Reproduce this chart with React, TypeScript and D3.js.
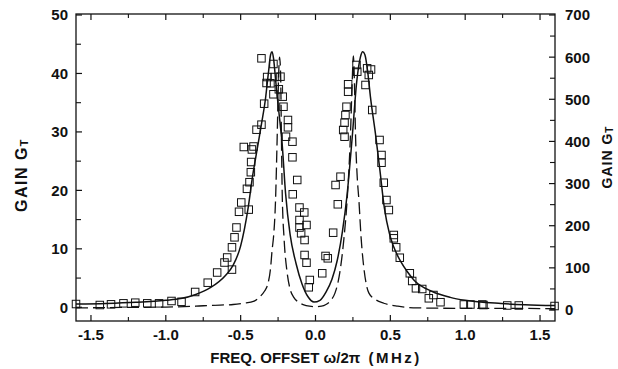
import React from 'react';
import * as d3 from 'd3';

const xTickValues = [-1.5, -1.0, -0.5, 0, 0.5, 1.0, 1.5];
const xMinorTicks = [-1.25, -0.75, -0.25, 0.25, 0.75, 1.25];
const leftTickValues = [0, 10, 20, 30, 40, 50];
const leftMinorTicks = [5, 15, 25, 35, 45];
const rightTickValues = [0, 100, 200, 300, 400, 500, 600, 700];
const rightMinorTicks = [50, 150, 250, 350, 450, 550, 650];

// Theory (solid), left axis units
const solidCurve: [number, number][] = [
  [-1.6, 0.55], [-1.4, 0.65], [-1.2, 0.85], [-1.0, 1.2], [-0.9, 1.5], [-0.8, 2.2], [-0.7, 3.4],
  [-0.6, 5.5], [-0.55, 7.2], [-0.5, 10.5], [-0.45, 17], [-0.42, 22.5], [-0.39, 27], [-0.36, 31.5],
  [-0.335, 35.5], [-0.315, 40], [-0.3, 43.2], [-0.29, 43.7], [-0.28, 42.5], [-0.265, 38.5],
  [-0.245, 33.5], [-0.223, 28], [-0.2, 19.5], [-0.17, 12.5], [-0.13, 7.5], [-0.09, 4],
  [-0.05, 1.8], [-0.01, 0.9], [0.03, 1.2], [0.07, 2.6], [0.11, 4.8], [0.145, 8], [0.18, 13],
  [0.21, 19], [0.245, 29], [0.275, 38.5], [0.3, 42.8], [0.315, 43.7], [0.33, 43.2], [0.35, 40],
  [0.367, 36], [0.4, 29.8], [0.43, 23.5], [0.46, 17], [0.494, 12.6], [0.523, 10.3], [0.57, 7.8],
  [0.61, 6.2], [0.66, 4.6], [0.78, 2.7], [0.9, 1.7], [1.0, 1.2], [1.24, 0.65], [1.4, 0.45], [1.6, 0.3],
];

// Theory (dashed), right axis units
const dashedCurve: [number, number][] = [
  [-1.6, 5], [-1.3, 6], [-1.0, 7], [-0.8, 9], [-0.7, 11], [-0.55, 13], [-0.48, 16], [-0.41, 21],
  [-0.37, 32], [-0.34, 45], [-0.32, 60], [-0.3, 100], [-0.29, 142], [-0.28, 175], [-0.267, 260],
  [-0.256, 410], [-0.247, 550], [-0.24, 600], [-0.233, 560], [-0.228, 420], [-0.222, 270],
  [-0.21, 170], [-0.19, 90], [-0.17, 50], [-0.145, 30], [-0.11, 18], [-0.078, 12], [-0.04, 9],
  [0, 8], [0.04, 9], [0.07, 13], [0.1, 22], [0.13, 40], [0.15, 65], [0.167, 100], [0.19, 170],
  [0.212, 265], [0.234, 420], [0.245, 540], [0.253, 603], [0.26, 540], [0.267, 420], [0.278, 320],
  [0.29, 260], [0.305, 170], [0.323, 100], [0.34, 60], [0.357, 40], [0.4, 25], [0.456, 16],
  [0.55, 9], [0.68, 5], [1.0, 4], [1.3, 4], [1.6, 3],
];

// Measured gain (squares), left axis units
const squares: [number, number][] = [
  [-1.6, 0.56], [-1.441, 0.39], [-1.366, 0.51], [-1.283, 0.68], [-1.204, 0.79], [-1.124, 0.68],
  [-1.045, 0.68], [-0.962, 1.08], [-0.895, 0.94], [-0.804, 2.62], [-0.72, 4.21], [-0.657, 5.95],
  [-0.608, 7.66], [-0.59, 8.52], [-0.558, 6.45], [-0.558, 10.26], [-0.541, 11.97], [-0.528, 13.65],
  [-0.511, 16.34], [-0.496, 17.93], [-0.446, 16.71], [-0.458, 20.27], [-0.441, 21.4], [-0.432, 23.11],
  [-0.43, 24.85], [-0.479, 27.42], [-0.414, 27.51], [-0.425, 27.0], [-0.394, 30.38], [-0.361, 31.24],
  [-0.343, 34.83], [-0.327, 38.37], [-0.323, 39.39], [-0.361, 42.59], [-0.301, 38.32], [-0.281, 36.44],
  [-0.281, 41.62], [-0.271, 39.39], [-0.245, 37.29], [-0.234, 39.45], [-0.219, 36.03], [-0.214, 34.31],
  [-0.184, 32.04], [-0.184, 30.79], [-0.197, 29.18], [-0.154, 28.33], [-0.154, 25.66], [-0.122, 21.78],
  [-0.152, 19.33], [-0.107, 17.07], [-0.075, 16.22], [-0.107, 14.93], [-0.06, 14.08], [-0.107, 13.65],
  [-0.096, 12.66], [-0.073, 11.51], [-0.073, 8.95], [-0.06, 7.63], [-0.038, 4.67], [-0.045, 3.42],
  [0.045, 5.82], [0.067, 8.78], [0.082, 8.38], [0.118, 12.76], [0.149, 17.62], [0.134, 20.92],
  [0.167, 22.34], [0.194, 29.18], [0.185, 30.33], [0.194, 31.58], [0.2, 32.89], [0.207, 34.31],
  [0.218, 36.88], [0.218, 38.15], [0.274, 41.45], [0.279, 40.3], [0.345, 40.88], [0.356, 39.74],
  [0.371, 40.68], [0.334, 38.03], [0.379, 33.75], [0.428, 28.62], [0.441, 26.05], [0.441, 24.73],
  [0.456, 21.31], [0.474, 18.35], [0.49, 16.64], [0.523, 12.37], [0.523, 11.8], [0.539, 10.26],
  [0.563, 8.48], [0.63, 5.82], [0.646, 4.5], [0.671, 3.25], [0.713, 3.13], [0.757, 1.54],
  [0.788, 2.1], [0.835, 0.87], [0.991, 0.48], [1.035, 0.48], [1.114, 0.48], [1.122, 0.39],
  [1.281, 0.31], [1.358, 0.31], [1.597, 0.22],
];

const W = 618;
const H = 369;
const frame = { left: 76, right: 555, top: 14, bottom: 321 };
const FONT = "'Liberation Sans', Arial, Helvetica, sans-serif";

export default function App() {
  const x = d3.scaleLinear().domain([-1.6, 1.6]).range([frame.left, frame.right]);
  const yL = d3.scaleLinear().domain([0, 50]).range([307.3, 15]);
  const yR = d3.scaleLinear().domain([0, 700]).range([310, 15]);

  const solidPath = d3.line<[number, number]>()
    .x(d => x(d[0])).y(d => yL(d[1]))
    .curve(d3.curveMonotoneX)(solidCurve) as string;
  const dashedPath = d3.line<[number, number]>()
    .x(d => x(d[0])).y(d => yR(d[1]))
    .curve(d3.curveMonotoneX)(dashedCurve) as string;

  const sq = 7.5;

  return (
    <svg width={W} height={H} style={{ position: 'absolute', left: 0, top: 0, background: '#fff' }}
      fontFamily={FONT}>
      <rect x={0} y={0} width={W} height={H} fill="#fff" />
      {/* frame */}
      <rect x={frame.left} y={frame.top} width={frame.right - frame.left} height={frame.bottom - frame.top}
        fill="none" stroke="#111" strokeWidth={1.3} />
      {/* x ticks bottom & top */}
      {xTickValues.map(v => (
        <g key={'xt' + v}>
          <line x1={x(v)} x2={x(v)} y1={frame.bottom} y2={frame.bottom - 6} stroke="#111" strokeWidth={1.2} />
          <line x1={x(v)} x2={x(v)} y1={frame.top} y2={frame.top + 6} stroke="#111" strokeWidth={1.2} />
          <text x={x(v)} y={340} textAnchor="middle" fontSize={15} fontWeight="bold" fill="#111">
            {v.toFixed(1)}
          </text>
        </g>
      ))}
      {xMinorTicks.map(v => (
        <g key={'xm' + v}>
          <line x1={x(v)} x2={x(v)} y1={frame.bottom} y2={frame.bottom - 4} stroke="#111" strokeWidth={1.1} />
          <line x1={x(v)} x2={x(v)} y1={frame.top} y2={frame.top + 4} stroke="#111" strokeWidth={1.1} />
        </g>
      ))}
      {/* left ticks */}
      {leftTickValues.map(v => (
        <g key={'lt' + v}>
          <line x1={frame.left} x2={frame.left + 6} y1={yL(v)} y2={yL(v)} stroke="#111" strokeWidth={1.2} />
          <text x={68} y={yL(v)} dy="0.36em" textAnchor="end" fontSize={15} fontWeight="bold" fill="#111">{v}</text>
        </g>
      ))}
      {leftMinorTicks.map(v => (
        <line key={'lm' + v} x1={frame.left} x2={frame.left + 5} y1={yL(v)} y2={yL(v)} stroke="#111" strokeWidth={1.1} />
      ))}
      {/* right ticks */}
      {rightTickValues.map(v => (
        <g key={'rt' + v}>
          <line x1={frame.right} x2={frame.right - 6} y1={yR(v)} y2={yR(v)} stroke="#111" strokeWidth={1.2} />
          <text x={565} y={yR(v)} dy="0.36em" textAnchor="start" fontSize={15} fontWeight="bold" fill="#111">{v}</text>
        </g>
      ))}
      {rightMinorTicks.map(v => (
        <line key={'rm' + v} x1={frame.right} x2={frame.right - 5} y1={yR(v)} y2={yR(v)} stroke="#111" strokeWidth={1.1} />
      ))}
      {/* curves */}
      <path d={dashedPath} fill="none" stroke="#111" strokeWidth={1.3} strokeDasharray="12,5" />
      <path d={solidPath} fill="none" stroke="#111" strokeWidth={1.5} />
      {/* squares */}
      {squares.map((d, i) => (
        <rect key={'s' + i} x={x(d[0]) - sq / 2} y={yL(d[1]) - sq / 2} width={sq} height={sq}
          fill="none" stroke="#111" strokeWidth={1} />
      ))}
      {/* axis titles */}
      <text x={316} y={363} textAnchor="middle" fontSize={15} fontWeight="bold" fill="#111">
        FREQ. OFFSET ω/2π <tspan dx={4} letterSpacing={2.5}>(MHz)</tspan>
      </text>
      <text transform="translate(27,175) rotate(-90)" textAnchor="middle" fontSize={16} fontWeight="bold"
        fill="#111" letterSpacing={1.5}>
        GAIN  G<tspan fontSize={11} dy={1}>T</tspan>
      </text>
      <text transform="translate(612,157) rotate(-90)" textAnchor="middle" fontSize={14} fontWeight="bold"
        fill="#111" letterSpacing={1}>
        GAIN  G<tspan fontSize={10} dy={1}>T</tspan>
      </text>
    </svg>
  );
}
